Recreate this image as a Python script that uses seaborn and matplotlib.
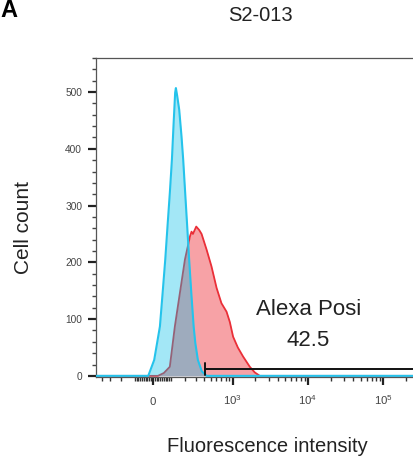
import numpy as np
import pandas as pd
import matplotlib
matplotlib.use("Agg")
import matplotlib.pyplot as plt
import seaborn as sns

# ---- data ----
blue_x = [-484, -25, 7, 38, 53, 68, 81, 95, 108, 118, 129, 134, 143, 157, 174, 187,
          203, 220, 237, 257, 280, 297, 325, 372, 437, 262144]
blue_count = [0, 0, 28, 87, 146, 205, 263, 322, 381, 440, 499, 507, 493, 469, 422, 381,
              322, 263, 205, 146, 87, 58, 28, 8, 0, 0]

red_x = [-484, 27, 60, 95, 127, 162, 201, 245, 259, 273, 307, 340, 369, 437, 511, 602,
         702, 824, 912, 1010, 1169, 1375, 1690, 1970, 2295, 262144]
red_count = [0, 0, 5, 16, 87, 146, 205, 246, 254, 250, 263, 257, 250, 222, 193, 155,
             128, 113, 95, 69, 50, 34, 16, 6, 0, 0]

gate_x = [410, 262144]
gate_y = 12
gate_label = "Alexa Posi"
gate_value = "42.5"

x_ticks = [0, 1e3, 1e4, 1e5]
x_tick_labels = ["0", "$10^3$", "$10^4$", "$10^5$"]
y_ticks = [0, 100, 200, 300, 400, 500]

title = "S2-013"
panel = "A"
xlabel = "Fluorescence intensity"
ylabel = "Cell count"

# ---- style ----
sns.set_theme(style="ticks")
plt.rcParams["font.family"] = ["Liberation Sans", "DejaVu Sans"]
plt.rcParams["mathtext.fontset"] = "custom"
plt.rcParams["mathtext.rm"] = "Liberation Sans"
plt.rcParams["mathtext.it"] = "Liberation Sans:italic"
plt.rcParams["mathtext.bf"] = "Liberation Sans:bold"

W, H = 413, 459
fig = plt.figure(figsize=(W / 100, H / 100), dpi=100)
L, R, T, B = 96, 415, 58, 377
ax = fig.add_axes([L / W, 1 - B / H, (R - L) / W, (B - T) / H])

C = 176.0
ax.set_xscale("function", functions=(lambda v: np.arcsinh(np.asarray(v) / C),
                                      lambda v: C * np.sinh(np.asarray(v))))
ax.set_xlim(-484, 262144)
ax.set_ylim(-2, 560)

blue = pd.DataFrame({"x": blue_x, "count": blue_count})
red = pd.DataFrame({"x": red_x, "count": red_count})

# red histogram
ax.fill_between(red["x"], red["count"], 0, color="#f7a2a6", lw=0, zorder=2)
sns.lineplot(data=red, x="x", y="count", sort=False, estimator=None,
             color="#ea2f38", lw=1.3, ax=ax, zorder=3)
# blue histogram (on top, translucent)
ax.fill_between(blue["x"], blue["count"], 0, color=(0.0, 0.74, 0.91), alpha=0.36,
                lw=0, zorder=4)
sns.lineplot(data=blue, x="x", y="count", sort=False, estimator=None,
             color="#25c3eb", lw=1.5, ax=ax, zorder=5)

# gate
ax.plot(gate_x, [gate_y, gate_y], color="#111111", lw=1.4, zorder=6, clip_on=False)
ax.plot([gate_x[0], gate_x[0]], [gate_y - 10, gate_y + 11], color="#111111", lw=1.4,
        zorder=6)
ax.text(10170, 107.6, gate_label, ha="center", va="baseline", fontsize=16,
        color="#222222", zorder=7)
ax.text(10170, 53, gate_value, ha="center", va="baseline", fontsize=16,
        color="#222222", zorder=7)

# axes, ticks
ax.set_xlabel("")
ax.set_ylabel("")
ax.set_yticks(y_ticks)
ax.set_yticks(np.arange(0, 561, 20), minor=True)
ax.set_xticks(x_ticks)
ax.set_xticklabels(x_tick_labels)
minor_x = ([-400, -300, -200, -100] + list(range(-90, 0, 10)) + list(range(10, 100, 10))
           + list(range(100, 1000, 100)) + list(range(2000, 10000, 1000))
           + list(range(20000, 100000, 10000)) + [200000])
ax.set_xticks(minor_x, minor=True)

ax.tick_params(axis="y", which="major", length=6, width=1.6, labelsize=7.3,
               labelcolor="#444444", color="#222222", pad=4)
ax.tick_params(axis="y", which="minor", length=3, width=1.0, color="#444444")
ax.tick_params(axis="x", which="major", length=5.5, width=1.6, labelsize=8.2,
               labelcolor="#444444", color="#222222", pad=15)
ax.tick_params(axis="x", which="minor", length=3, width=1.0, color="#333333")
for lab in ax.get_xticklabels():
    lab.set_va("baseline")

for s in ["left", "bottom", "top"]:
    ax.spines[s].set_color("#555555")
    ax.spines[s].set_linewidth(0.9)
ax.spines["right"].set_visible(False)

# texts
fig.text(260 / W, 1 - 15.8 / H, title, ha="center", va="center", fontsize=14.5,
         color="#222222")
fig.text(0.5 / W, 1 - 17 / H, panel, ha="left", va="baseline", fontsize=17,
         fontweight="bold", color="black")
fig.text(267 / W, 1 - 446 / H, xlabel, ha="center", va="center", fontsize=14.5,
         color="#222222")
fig.text(24 / W, 1 - 227 / H, ylabel, ha="center", va="center", fontsize=15,
         rotation=90, color="#222222")

fig.savefig("out.png", dpi=100)
